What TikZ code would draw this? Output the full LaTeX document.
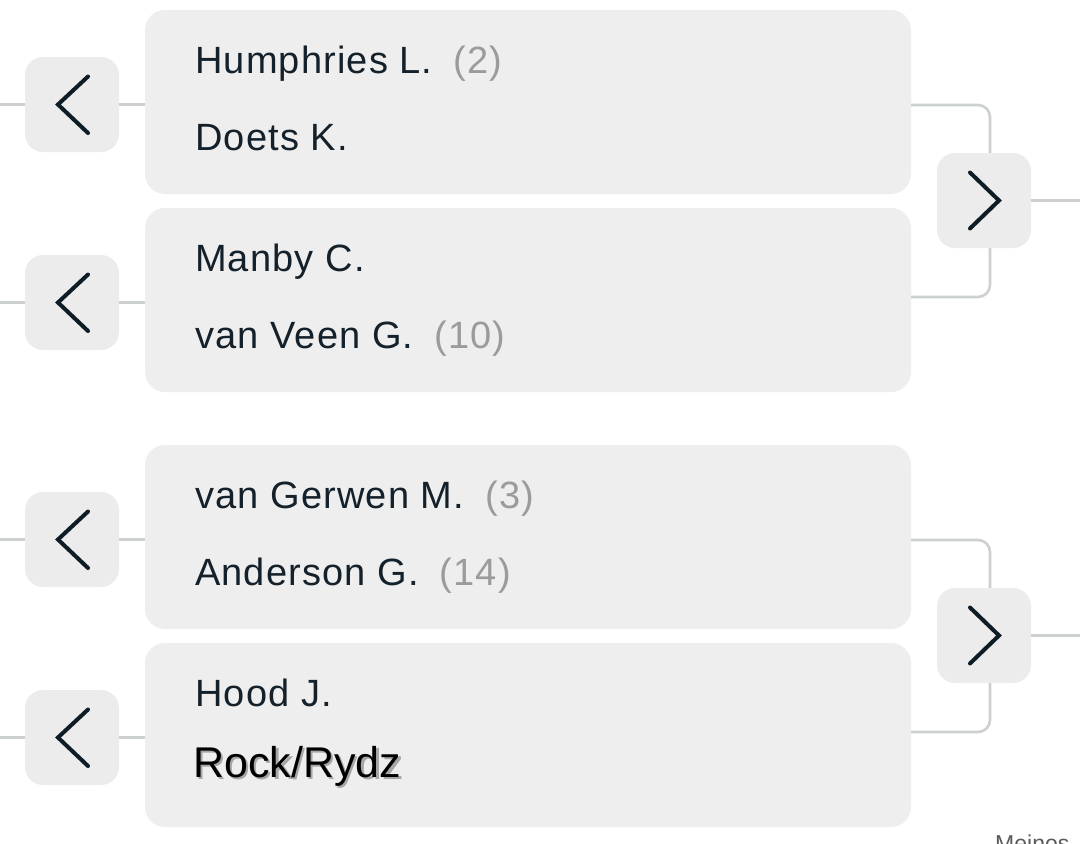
\documentclass[tikz,border=0pt]{standalone}
\usepackage{fontspec}
\usetikzlibrary{calc}
\setmainfont{Liberation Sans}
\newfontfamily\namefont[LetterSpace=3]{Liberation Sans}
\definecolor{boxbg}{RGB}{238,238,238}
\definecolor{btnbg}{RGB}{236,236,236}
\definecolor{namecol}{RGB}{20,33,43}
\definecolor{seedcol}{RGB}{155,155,155}
\definecolor{linegray}{RGB}{204,208,208}
\definecolor{chevcol}{RGB}{14,28,38}
\definecolor{notecol}{RGB}{90,90,90}
\begin{document}
\begin{tikzpicture}[x=1pt,y=-1pt,
  match/.style={fill=boxbg, rounded corners=20pt, minimum width=766pt, minimum height=184pt, inner sep=0pt},
  btn/.style={fill=btnbg, rounded corners=18pt, minimum width=94pt, minimum height=95pt, inner sep=0pt},
  conn/.style={draw=linegray, line width=2.6pt},
  chev/.style={draw=chevcol, line width=4pt, line cap=round},
  player/.style={anchor=base west, inner sep=0pt, text=namecol, font=\namefont\fontsize{38}{40}\selectfont},
  pairtext/.style={anchor=base west, inner sep=0pt, font=\fontsize{43}{45}\selectfont}
]
\clip (0,0) rectangle (1080,844);
\fill[white] (0,0) rectangle (1080,844);

% match boxes
\node[match] (m1) at (528,102) {};
\node[match] (m2) at (528,300) {};
\node[match] (m3) at (528,537) {};
\node[match] (m4) at (528,735) {};

% left buttons
\node[btn] (lb1) at (72,104.5) {};
\node[btn] (lb2) at (72,302.5) {};
\node[btn] (lb3) at (72,539.5) {};
\node[btn] (lb4) at (72,737.5) {};

% right buttons
\node[btn] (rb1) at (984,200.5) {};
\node[btn] (rb2) at (984,635.5) {};

% free ends
\coordinate (in1) at (0,104.5);
\coordinate (in2) at (0,302.5);
\coordinate (in3) at (0,539.5);
\coordinate (in4) at (0,737.5);
\coordinate (out1) at (1080,200.5);
\coordinate (out2) at (1080,635.5);

% left connectors
\foreach \i in {1,2,3,4}{
  \draw[conn] (in\i) -- (lb\i.west);
}
\draw[conn] (lb1.east) -- (lb1.east -| m1.west);
\draw[conn] (lb2.east) -- (lb2.east -| m2.west);
\draw[conn] (lb3.east) -- (lb3.east -| m3.west);
\draw[conn] (lb4.east) -- (lb4.east -| m4.west);

% right brackets
\draw[conn, rounded corners=12pt] (m1.east |- 0,105) -- (990,105) -- (990,0 |- rb1.north);
\draw[conn, rounded corners=12pt] (990,0 |- rb1.south) -- (990,297) -- (m2.east |- 0,297);
\draw[conn] (rb1.east) -- (out1);
\draw[conn, rounded corners=12pt] (m3.east |- 0,540) -- (990,540) -- (990,0 |- rb2.north);
\draw[conn, rounded corners=12pt] (990,0 |- rb2.south) -- (990,732) -- (m4.east |- 0,732);
\draw[conn] (rb2.east) -- (out2);

% chevrons
\foreach \b in {lb1,lb2,lb3,lb4}{
  \draw[chev] ($(\b.center)+(16,-28)$) -- ($(\b.center)+(-14,0)$) -- ($(\b.center)+(16,28.5)$);
}
\foreach \b in {rb1,rb2}{
  \draw[chev] ($(\b.center)+(-14,-28)$) -- ($(\b.center)+(15,0)$) -- ($(\b.center)+(-14,28)$);
}

% names
\node[player] (p1) at (195,73) {Humphries L.\hspace{21pt}\textcolor{seedcol}{(2)}};
\node[player] (p2) at (195,150) {Doets K.};
\node[player] (p3) at (195,271) {Manby C.};
\node[player] (p4) at (195,348) {van Veen G.\hspace{21pt}\textcolor{seedcol}{(10)}};
\node[player] (p5) at (195,508) {van Gerwen M.\hspace{21pt}\textcolor{seedcol}{(3)}};
\node[player] (p6) at (195,585) {Anderson G.\hspace{21pt}\textcolor{seedcol}{(14)}};
\node[player] (p7) at (195,706) {Hood J.};

% Rock/Rydz with soft shadow
\node[pairtext, text=black, opacity=0.3] (p8s) at (195.5,779.5) {Rock/Rydz};
\node[pairtext, text=black] (p8) at (193,777) {Rock/Rydz};

% cut-off note at bottom right
\node[anchor=base west, inner sep=0pt, text=notecol, font=\fontsize{23}{25}\selectfont] (note) at (995,851) {Meinos};
\end{tikzpicture}
\end{document}
